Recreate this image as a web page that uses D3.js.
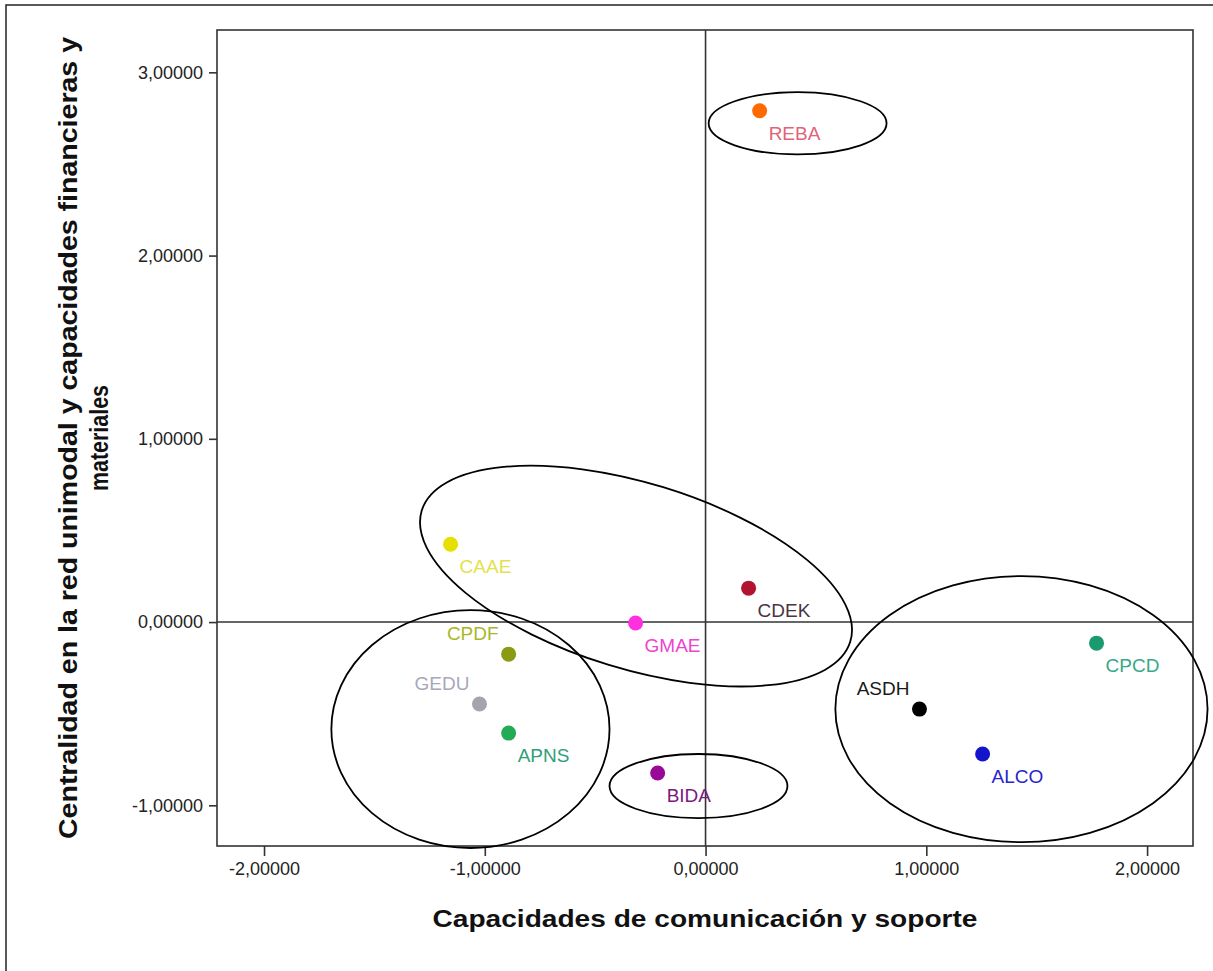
<!DOCTYPE html>
<html>
<head>
<meta charset="utf-8">
<script src="https://cdn.jsdelivr.net/npm/d3@7"></script>
<style>
  html, body { margin: 0; padding: 0; background: #fff; }
  svg { display: block; font-family: "Liberation Sans", Arial, sans-serif; }
</style>
</head>
<body>
<svg id="chart" width="1213" height="971"></svg>
<script>
// Organisations and their factor scores
const codes = ["REBA", "CAAE", "CDEK", "GMAE", "CPDF", "GEDU", "APNS", "BIDA", "ASDH", "ALCO", "CPCD"];
const comunicacion = [0.245, -1.155, 0.195, -0.317, -0.892, -1.024, -0.892, -0.217, 0.969, 1.255, 1.771];
const centralidad = [2.79, 0.425, 0.185, -0.005, -0.175, -0.447, -0.606, -0.824, -0.475, -0.72, -0.115];
const pointColors = ["#ff6a00", "#e6e000", "#b0142e", "#ff30e0", "#8a9a12", "#a4a4ac", "#22aa55", "#990a99", "#000000", "#1414cc", "#1a9a6e"];
const labelColors = ["#e0647a", "#e2e24a", "#4a3444", "#ee44cc", "#a8b828", "#a8a8b8", "#30a078", "#7a1a7a", "#1a1a1a", "#2626cc", "#38a888"];
const labelSide = ["below", "below", "below", "below", "above", "above", "below", "below", "above", "below", "below"];

// Tick values
const xTicks = [-2, -1, 0, 1, 2];
const yTicks = [-1, 0, 1, 2, 3];

// Grouping ellipses (centre and semi-axes in score units, tilt in degrees)
const groupCx = [0.417, -0.315, -1.065, -0.032, 1.431];
const groupCy = [2.722, 0.251, -0.584, -0.895, -0.475];
const groupRx = [0.403, 1.015, 0.630, 0.403, 0.843];
const groupRy = [0.170, 0.507, 0.649, 0.175, 0.726];
const groupTilt = [0, 17, 0, 0, 0];

const svg = d3.select("#chart");
const plot = { left: 217, right: 1193, top: 30, bottom: 846 };

const x = d3.scaleLinear().domain([-2.213, 2.208]).range([plot.left, plot.right]);
const y = d3.scaleLinear().domain([-1.222, 3.231]).range([plot.bottom, plot.top]);

const locale = d3.formatLocale({ decimal: ",", thousands: ".", grouping: [3], currency: ["", ""], minus: "-" });
const fmt = locale.format(".5f");

// Outer frame
svg.append("rect")
  .attr("x", 6).attr("y", 5).attr("width", 1240).attr("height", 1000)
  .attr("fill", "none").attr("stroke", "#222").attr("stroke-width", 1.5);

// Axes
const xAxis = svg.append("g")
  .attr("transform", `translate(0,${plot.bottom})`)
  .call(d3.axisBottom(x).tickValues(xTicks).tickFormat(fmt).tickSize(10).tickSizeOuter(0).tickPadding(6));
const yAxis = svg.append("g")
  .attr("transform", `translate(${plot.left},0)`)
  .call(d3.axisLeft(y).tickValues(yTicks).tickFormat(fmt).tickSize(8).tickSizeOuter(0).tickPadding(6));
[xAxis, yAxis].forEach(g => {
  g.select(".domain").remove();
  g.selectAll(".tick line").attr("stroke", "#333").attr("stroke-width", 1.6);
  g.selectAll(".tick text")
    .attr("fill", "#222")
    .style("font-size", "18px")
    .style("font-family", "'Liberation Sans', Arial, sans-serif");
});

// Plot frame
svg.append("rect")
  .attr("x", plot.left).attr("y", plot.top)
  .attr("width", plot.right - plot.left).attr("height", plot.bottom - plot.top)
  .attr("fill", "none").attr("stroke", "#333").attr("stroke-width", 1.6);

// Reference lines through the origin
svg.append("line")
  .attr("x1", x(0)).attr("x2", x(0)).attr("y1", plot.top).attr("y2", plot.bottom)
  .attr("stroke", "#333").attr("stroke-width", 1.6);
svg.append("line")
  .attr("x1", plot.left).attr("x2", plot.right).attr("y1", y(0)).attr("y2", y(0))
  .attr("stroke", "#333").attr("stroke-width", 1.6);

// Points
const pts = codes.map((c, i) => ({ code: c, cx: comunicacion[i], cy: centralidad[i], fill: pointColors[i], lab: labelColors[i], side: labelSide[i] }));
svg.append("g").selectAll("circle").data(pts).join("circle")
  .attr("cx", d => x(d.cx)).attr("cy", d => y(d.cy)).attr("r", 7.5)
  .attr("fill", d => d.fill);

// Labels
svg.append("g").selectAll("text").data(pts).join("text")
  .attr("x", d => d.side === "below" ? x(d.cx) + 9 : x(d.cx) - 10)
  .attr("y", d => d.side === "below" ? y(d.cy) + 29 : y(d.cy) - 14)
  .attr("text-anchor", d => d.side === "below" ? "start" : "end")
  .attr("fill", d => d.lab)
  .style("font-size", "19px")
  .text(d => d.code);

// Grouping ellipses
const groups = groupCx.map((c, i) => ({ cx: c, cy: groupCy[i], rx: groupRx[i], ry: groupRy[i], tilt: groupTilt[i] }));
svg.append("g").selectAll("ellipse").data(groups).join("ellipse")
  .attr("transform", d => `translate(${x(d.cx)},${y(d.cy)}) rotate(${d.tilt})`)
  .attr("rx", d => x(d.cx + d.rx) - x(d.cx))
  .attr("ry", d => y(d.cy) - y(d.cy + d.ry))
  .attr("fill", "none").attr("stroke", "#000").attr("stroke-width", 1.8);

// Axis titles
svg.append("text")
  .attr("x", (plot.left + plot.right) / 2).attr("y", 927)
  .attr("text-anchor", "middle")
  .attr("fill", "#111")
  .style("font-size", "24px").style("font-weight", "bold")
  .attr("textLength", 545).attr("lengthAdjust", "spacingAndGlyphs")
  .text("Capacidades de comunicación y soporte");

const yMid = (plot.top + plot.bottom) / 2;
const yTitleLines = [
  { text: "Centralidad en la red unimodal y capacidades financieras y", cx: 77, len: 802 },
  { text: "materiales", cx: 108, len: 106 }
];
svg.append("g").selectAll("text").data(yTitleLines).join("text")
  .attr("transform", d => `translate(${d.cx},${yMid}) rotate(-90)`)
  .attr("text-anchor", "middle")
  .attr("fill", "#111")
  .style("font-size", "25px").style("font-weight", "bold")
  .attr("textLength", d => d.len).attr("lengthAdjust", "spacingAndGlyphs")
  .text(d => d.text);
</script>
</body>
</html>
